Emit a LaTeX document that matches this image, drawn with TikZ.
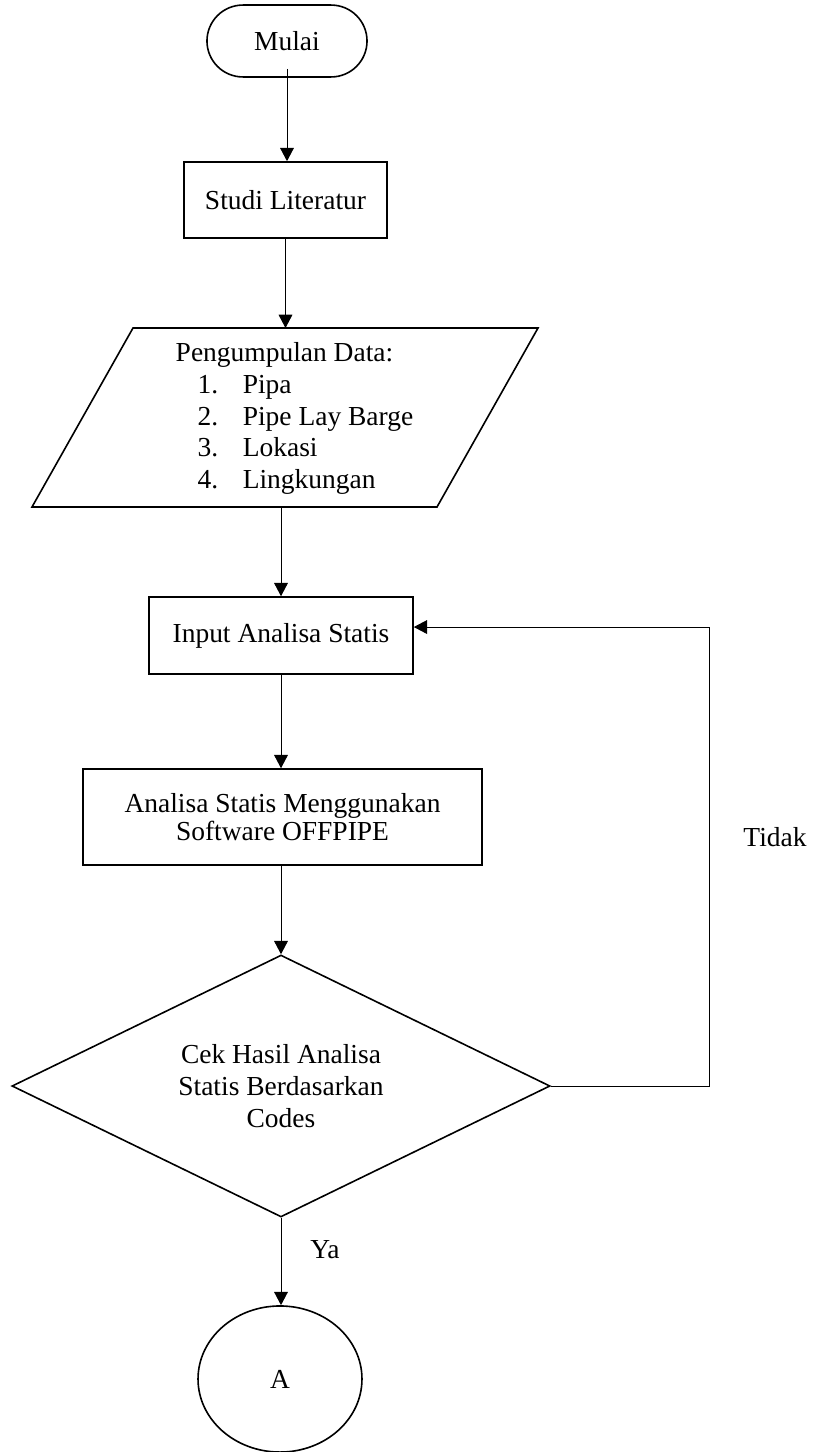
\documentclass[tikz,border=0pt]{standalone}
\usepackage{fontspec}
\setmainfont{Liberation Serif}
\usetikzlibrary{shapes.geometric,arrows.meta}

\begin{document}
\begin{tikzpicture}[x=0.4367pt,y=-0.4367pt,
	font=\fontsize{12}{13.8}\selectfont,
	garis/.style={line width=0.7pt},
	kotak/.style={draw,garis,inner sep=0pt,align=center},
	panah/.style={-{Triangle[width=6pt,length=5.8pt]}}]
	\useasboundingbox (0,0) rectangle (822,1452);
	% bentuk-bentuk
	\node [kotak,rounded corners=15.7pt,minimum width=69.9pt,minimum height=31.4pt] (mulai) at (287,41) {Mulai};
	\node [kotak,minimum width=88.7pt,minimum height=33.2pt] (studi) at (285.5,200) {Studi Literatur};
	\coordinate (da) at (32,507);
	\coordinate (db) at (437,507);
	\coordinate (dc) at (538,328);
	\coordinate (dd) at (133,328);
	\draw [garis] (da) -- (db) -- (dc) -- (dd) -- cycle;
	\node [align=left,inner sep=0pt] (data) at (294.5,418.5) {Pengumpulan Data:\\
		\hspace*{9.6pt}\makebox[19.7pt][l]{1.}Pipa\\
		\hspace*{9.6pt}\makebox[19.7pt][l]{2.}Pipe Lay Barge\\
		\hspace*{9.6pt}\makebox[19.7pt][l]{3.}Lokasi\\
		\hspace*{9.6pt}\makebox[19.7pt][l]{4.}Lingkungan};
	\node [kotak,minimum width=115.3pt,minimum height=33.6pt] (input) at (281,635.5) {Input Analisa Statis};
	\node [kotak,minimum width=174.2pt,minimum height=41.9pt,font=\fontsize{12}{12.4}\selectfont] (analisa) at (282.5,817) {Analisa Statis Menggunakan\\Software OFFPIPE};
	\node [kotak,diamond,aspect=2.05,minimum width=235pt,minimum height=114.4pt] (cek) at (281,1086) {Cek Hasil Analisa\\Statis Berdasarkan\\Codes};
	\node [kotak,ellipse,minimum width=71.6pt,minimum height=63.8pt] (a) at (280,1379) {A};
	\node (ya) at (325,1250) {Ya};
	\node (tidak) at (775,837) {Tidak};
	\coordinate (balik) at (709,0);
	% panah
	\draw [panah] ([yshift=3.9pt]mulai.south) -- (mulai.south |- studi.north);
	\draw [panah] (studi.south) -- (studi.south |- dd);
	\draw [panah] (input.north |- da) -- (input.north);
	\draw [panah] (input.south) -- (input.south |- analisa.north);
	\draw [panah] (analisa.south -| cek.north) -- (cek.north);
	\draw [panah] (cek.south) -- (cek.south |- a.north);
	\draw [panah] (cek.east) -- (cek.east -| balik) |- ([yshift=3.7pt]input.east);
\end{tikzpicture}
\end{document}
